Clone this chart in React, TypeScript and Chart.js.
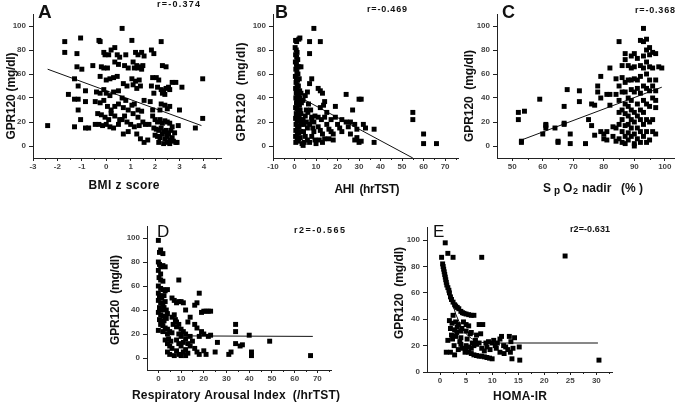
import React, { useEffect, useRef } from 'react';
import { Chart, registerables } from 'chart.js';

Chart.register(...registerables);

const W = 681;
const H = 402;
const FONT = '"Liberation Sans", Arial, sans-serif';

// ---------- Panel A: BMI z score ----------
const bmiZPoints: [number, number][] = [
  [-2.4, 17], [-1.7, 87], [-1.7, 78], [-1.05, 90], [-1.2, 77], [-1.2, 66], [-1.0, 64], [-1.3, 56], [-1.55, 43],
  [-1.15, 50], [-0.85, 46], [-1.3, 39], [-1.15, 39], [-0.85, 37], [-1.15, 30], [-1.05, 22], [-1.3, 16], [-0.85, 15],
  [-0.72, 15], [-0.55, 67], [-0.3, 88], [-0.25, 87], [-0.1, 78], [-0.05, 76], [0.1, 76], [0.2, 80], [0.35, 82],
  [0.45, 76], [0.55, 74], [0.35, 70], [0.5, 68], [-0.2, 66], [-0.1, 65], [0.05, 65], [-0.25, 58], [0.0, 55],
  [0.15, 56], [0.3, 57], [0.45, 58], [-0.4, 45], [-0.25, 44], [-0.1, 47], [0.0, 44], [0.15, 42], [0.3, 45],
  [0.5, 46], [-0.45, 37], [-0.25, 36], [-0.1, 38], [0.05, 33], [0.2, 30], [0.35, 33], [0.5, 35], [-0.35, 27],
  [-0.2, 26], [-0.05, 24], [0.1, 22], [0.2, 27], [0.35, 25], [0.55, 22], [-0.45, 18], [-0.3, 18], [-0.15, 17],
  [0.0, 18], [0.15, 16], [0.3, 15], [0.5, 18], [0.65, 98], [0.8, 76], [0.75, 67], [0.9, 65], [0.7, 52], [0.85, 50],
  [0.65, 40], [0.8, 38], [0.7, 32], [0.9, 30], [0.75, 25], [0.65, 22], [0.85, 20], [0.7, 10], [0.9, 12],
  [1.05, 88], [1.2, 78], [1.3, 76], [1.45, 78], [1.55, 75], [1.1, 70], [1.25, 67], [1.35, 66], [1.5, 67],
  [1.15, 65], [1.3, 65], [1.45, 64], [1.05, 56], [1.2, 54], [1.35, 55], [1.1, 51], [1.25, 48], [1.4, 50],
  [1.55, 38], [1.05, 34], [1.15, 35], [1.3, 30], [1.45, 29], [1.1, 27], [1.3, 24], [1.5, 20], [1.0, 18],
  [1.15, 16], [1.35, 17], [1.6, 18], [1.4, 6], [1.55, 3], [1.7, 5], [1.25, 10], [1.75, 18], [1.85, 80],
  [1.95, 77], [1.9, 57], [1.85, 50], [1.95, 44], [1.8, 37], [1.9, 30], [2.05, 57], [2.15, 55], [2.25, 87],
  [2.3, 67], [2.45, 66], [2.1, 49], [2.25, 47], [2.35, 46], [2.45, 48], [2.55, 49], [2.6, 47], [2.7, 53],
  [2.3, 44], [2.4, 43], [2.25, 35], [2.4, 34], [2.5, 31], [2.6, 33], [2.2, 30], [1.9, 25], [2.0, 22], [2.1, 20],
  [2.2, 22], [2.3, 19], [2.4, 21], [2.5, 20], [2.6, 19], [1.95, 15], [2.05, 14], [2.15, 13], [2.25, 15],
  [2.35, 12], [2.45, 13], [2.55, 11], [2.65, 13], [2.0, 9], [2.1, 8], [2.2, 7], [2.3, 10], [2.4, 6], [2.5, 8],
  [2.6, 5], [2.7, 7], [2.15, 3], [2.35, 2], [2.5, 3], [2.6, 2], [2.75, 4], [2.85, 3], [2.55, 10], [2.8, 11],
  [2.7, 16], [3.0, 30], [2.95, 17], [3.1, 49], [2.85, 53], [2.9, 3], [3.65, 15], [3.95, 56], [3.95, 23],
];
const bmiZFit: [number, number][] = [[-2.4, 64], [3.9, 17]];
const bmiZTicks = [-3, -2, -1, 0, 1, 2, 3, 4];
const bmiZMinor = [-2.5, -1.5, -0.5, 0.5, 1.5, 2.5, 3.5, 4.5];

// ---------- Panel B: AHI ----------
const ahiPoints: [number, number][] = [
  [0.5, 88], [1, 87], [2, 89], [2.5, 90], [0.3, 82], [0.8, 80], [1.2, 78], [0.5, 76], [1, 74], [1.5, 72], [0.4, 70],
  [0.9, 68], [1.3, 66], [2, 66], [3, 66], [0.6, 64], [1.1, 62], [1.6, 60], [0.4, 58], [0.9, 56], [1.4, 55],
  [2.2, 56], [0.7, 53], [1.2, 51], [1.8, 50], [0.5, 48], [1, 47], [1.6, 46], [2.4, 46], [0.8, 44], [1.4, 43],
  [2, 42], [3, 44], [0.6, 40], [1.2, 39], [1.9, 38], [2.6, 40], [0.9, 36], [1.6, 35], [2.3, 34], [3.2, 36],
  [0.5, 32], [1.1, 31], [1.8, 30], [2.6, 30], [0.8, 27], [1.5, 26], [2.2, 25], [3, 27], [0.5, 23], [1.2, 22],
  [1.9, 21], [2.7, 22], [0.7, 18], [1.4, 17], [2.1, 16], [3.1, 18], [0.6, 13], [1.3, 12], [2, 11], [2.8, 12],
  [0.5, 8], [1.2, 7], [1.9, 6], [2.7, 7], [0.6, 3], [1.5, 4], [3.5, 2], [4, 0.5], [4.5, 3], [4, 22], [4.5, 18],
  [5, 25], [5.5, 20], [6, 15], [4.2, 12], [5, 8], [6, 5], [7, 3], [5.5, 30], [6.2, 28], [4, 38], [5, 42], [6, 45],
  [7, 52], [8, 56], [6.5, 35], [7.5, 30], [8, 22], [7, 18], [8.5, 15], [9, 12], [8, 8], [9.5, 5], [10, 2],
  [7, 77], [7, 87], [9, 98], [12, 87], [8, 24], [9, 20], [9.5, 25], [11, 48], [12, 46], [13, 44], [14, 37],
  [13.5, 34], [12, 32], [11, 24], [12.5, 22], [14, 24], [15, 28], [11, 16], [12, 13], [13, 10], [14, 6],
  [11.5, 5], [13, 3], [15, 18], [16, 14], [17, 22], [17, 12], [16, 6], [18, 5], [19, 24], [19, 33], [20, 18],
  [18, 10], [21, 15], [22, 12], [22, 22], [24, 43], [24, 20], [25, 16], [26, 10], [27, 30], [28, 18], [29, 14],
  [29, 7], [30, 39], [31, 39], [30, 3], [31, 4], [32, 18], [33, 15], [37, 14], [37, 3], [28, 5], [26, 20],
  [55, 28], [55, 22], [60, 10], [60, 2], [66, 2],
];
const ahiFit: [number, number][] = [[1, 42], [55, -10]];
const ahiTicks = [-10, 0, 10, 20, 30, 40, 50, 60, 70];
const ahiMinor = [-5, 5, 15, 25, 35, 45, 55, 65, 75];

// ---------- Panel C: SpO2 nadir ----------
const spo2Points: [number, number][] = [
  [52, 28], [52, 22], [53, 4], [53, 3], [54, 29], [59, 39], [60, 10], [61, 15], [61, 17], [61, 18], [64, 15],
  [65, 4], [65, 3], [67, 33], [67, 19], [67, 18], [68, 47], [69, 10], [69, 2], [72, 46], [72, 37], [74, 2],
  [75, 22], [76, 35], [76, 17], [77, 34], [77, 9], [78, 45], [78, 50], [79, 40], [79, 58], [79, 12], [80, 10],
  [80, 6], [81, 43], [81, 12], [81, 5], [82, 65], [82, 43], [82, 34], [83, 16], [83, 8], [84, 15], [84, 43],
  [84, 56], [84, 4], [85, 87], [85, 38], [85, 50], [85, 28], [85, 18], [85, 6], [86, 67], [86, 57], [86, 45],
  [86, 30], [86, 22], [86, 12], [86, 3], [87, 77], [87, 72], [87, 53], [87, 45], [87, 35], [87, 27], [87, 17],
  [87, 8], [87, 2], [88, 67], [88, 55], [88, 40], [88, 33], [88, 25], [88, 18], [88, 11], [88, 5], [89, 75],
  [89, 65], [89, 55], [89, 47], [89, 38], [89, 30], [89, 22], [89, 15], [89, 8], [90, 77], [90, 66], [90, 56],
  [90, 45], [90, 28], [90, 20], [90, 10], [90, 2], [90, 0], [91, 73], [91, 55], [91, 48], [91, 35], [91, 25],
  [91, 15], [91, 6], [92, 88], [92, 67], [92, 58], [92, 44], [92, 30], [92, 22], [92, 12], [92, 3], [93, 98],
  [93, 87], [93, 75], [93, 65], [93, 50], [93, 38], [93, 28], [93, 18], [93, 8], [94, 89], [94, 80], [94, 70],
  [94, 60], [94, 48], [94, 35], [94, 22], [94, 12], [94, 3], [95, 82], [95, 76], [95, 66], [95, 55], [95, 46],
  [95, 33], [95, 20], [95, 5], [96, 78], [96, 65], [96, 50], [96, 40], [96, 22], [96, 12], [97, 77], [97, 55],
  [97, 46], [97, 32], [97, 10], [97, 38], [98, 66], [99, 65],
];
const spo2Fit: [number, number][] = [[53, 5], [99, 49]];
const spo2Ticks = [50, 60, 70, 80, 90, 100];
const spo2Minor = [55, 65, 75, 85, 95];

// ---------- Panel D: Respiratory Arousal Index ----------
const raiPoints: [number, number][] = [
  [0, 98], [0.5, 88], [1, 90], [2, 87], [0, 80], [0.5, 78], [1, 76], [2, 77], [3, 76], [0, 73], [1, 70],
  [0.3, 67], [1, 65], [2, 64], [0, 60], [1, 58], [2, 57], [3, 56], [4, 57], [0, 54], [0.5, 52], [1.5, 50],
  [2.5, 52], [0, 48], [1, 46], [2, 45], [3, 47], [0.5, 42], [1.5, 40], [2.5, 42], [3.5, 40], [0, 38], [1, 36],
  [2, 35], [3, 34], [4, 37], [0.5, 32], [1.5, 30], [2.5, 31], [3.5, 33], [1, 28], [2, 27], [3, 25], [0, 23],
  [2, 22], [4, 24], [4, 20], [5, 22], [6, 21], [4.5, 16], [5.5, 14], [3, 15], [4, 12], [5, 10], [6, 8], [4, 5],
  [5, 3], [7, 2], [6, 34], [7, 36], [7.5, 32], [8, 30], [6.5, 28], [9, 28], [9, 65], [6, 50], [7, 48], [8, 46],
  [9, 47], [10, 47], [11, 46], [8, 26], [10, 24], [11, 22], [9, 20], [10, 18], [12, 20], [8, 15], [9, 12],
  [10, 10], [11, 13], [12, 16], [8, 6], [9, 3], [10, 2], [11, 5], [12, 2], [12, 7], [13, 4], [13, 12], [14, 10],
  [13, 30], [14, 34], [12, 40], [14, 18], [15, 14], [16, 44], [17, 46], [18, 54], [16, 28], [17, 25], [18, 18],
  [19, 22], [16, 8], [17, 5], [18, 3], [20, 6], [21, 3], [19, 38], [20, 39], [21, 39], [22, 39], [23, 39],
  [20, 20], [22, 18], [23, 19], [25, 5], [26, 13], [31, 3], [32, 5], [34, 28], [34, 22], [34, 12], [36, 10],
  [37, 11], [40, 19], [41, 5], [41, 2], [49, 14], [67, 2],
];
const raiFit: [number, number][] = [[12, 18.4], [68, 18]];
const raiTicks = [0, 10, 20, 30, 40, 50, 60, 70];
const raiMinor = [-5, 5, 15, 25, 35, 45, 55, 65, 75];

// ---------- Panel E: HOMA-IR ----------
const homaPoints: [number, number][] = [
  [0.5, 82], [0.6, 80], [0.7, 78], [0.8, 76], [0.9, 74], [1.0, 72], [1.1, 70], [1.2, 68], [1.3, 66], [1.5, 64],
  [1.7, 62], [1.8, 60], [2.0, 57], [2.2, 55], [2.5, 53], [2.8, 51], [3.0, 50], [3.3, 49], [3.6, 48], [4.0, 46],
  [4.3, 45], [4.6, 44.5], [5.0, 44], [5.5, 43.5], [6.0, 43], [6.5, 43], [1, 98], [1.5, 90], [0.3, 87], [2.5, 87],
  [8, 87], [24, 88], [30.5, 9], [5, 17], [5.5, 15], [6, 14], [6.5, 13], [7, 12.5], [7.5, 12], [8, 12], [8.5, 11.5],
  [9, 11], [9.5, 10.5], [10, 10], [2.5, 43], [1.8, 39], [2.3, 37], [3, 38], [3.5, 36], [4.5, 38], [5, 36],
  [5.5, 35], [7.5, 36], [8.2, 36], [2, 33], [2.8, 32], [3.3, 34], [4, 31], [5, 31], [6, 30], [2.2, 28], [3, 27],
  [4, 26], [7, 28], [7.8, 29], [2.4, 25], [5.2, 25], [6.2, 22], [1.5, 24], [1.2, 15], [2, 15], [2.8, 13],
  [3.5, 17], [4.3, 18], [4, 21], [5, 20], [5.5, 19], [6, 18], [6.5, 20], [7, 21], [7.5, 22], [8, 18], [8.5, 16],
  [9, 19], [8.8, 22], [9.3, 23], [10, 22], [10.3, 24], [10.6, 20], [11, 22], [11.5, 25], [11.8, 27], [12.2, 20],
  [12.6, 19], [13, 17], [13.3, 27], [13.6, 23], [13.8, 10], [14, 18], [14.3, 26], [15.2, 19], [15.3, 9],
  [11.5, 15], [12.3, 14], [13.5, 15], [6.8, 24], [3.8, 23], [9.6, 17], [10.8, 18], [4.8, 15], [4.2, 33],
  [5.8, 29], [3.2, 30], [2.7, 20],
];
const homaFit: [number, number][] = [
  [2.2, 55], [3, 44], [4, 35], [5, 29], [6, 25.5], [7, 23.5], [8, 22.5], [10, 22], [30.3, 22],
];
const homaTicks = [0, 5, 10, 15, 20, 25, 30];
const homaMinor = [2.5, 7.5, 12.5, 17.5, 22.5, 27.5, 32.5];

// ---------- Y axis ----------
const gprTicks = [0, 20, 40, 60, 80, 100];

type Txt = {
  text?: string;
  segs?: { t: string; x: number; font: string; dy: number }[];
  x: number;
  y: number;
  font: string;
  width?: number;
  rotate?: boolean;
  left?: boolean;
};

type Panel = {
  points: [number, number][];
  fit: [number, number][];
  xMin: number; xMax: number; yMin: number; yMax: number;
  xTicks: number[]; xMinor: number[]; yTicks: number[];
  L: number; T: number; R: number; B: number;
  texts: Txt[];
};

const titleFont = `bold 12px ${FONT}`;
const rFont = `bold 9px ${FONT}`;

const panels: Panel[] = [
  {
    points: bmiZPoints, fit: bmiZFit, xMin: -3, xMax: 4.7, yMin: -10, yMax: 110,
    xTicks: bmiZTicks, xMinor: bmiZMinor, yTicks: gprTicks, L: 33, T: 14, R: 221, B: 158,
    texts: [
      { text: 'A', x: 38, y: 18, font: `bold 19px ${FONT}`, left: true },
      { text: 'r=-0.374', x: 178.5, y: 7, font: rFont, width: 43 },
      { text: 'GPR120 (mg/dl)', x: 12, y: 96, font: titleFont, width: 87, rotate: true },
      { text: 'BMI z score', x: 124, y: 189, font: titleFont, width: 71 },
    ],
  },
  {
    points: ahiPoints, fit: ahiFit, xMin: -10, xMax: 76, yMin: -10, yMax: 110,
    xTicks: ahiTicks, xMinor: ahiMinor, yTicks: gprTicks, L: 273, T: 14, R: 458, B: 158,
    texts: [
      { text: 'B', x: 275, y: 18, font: `bold 18px ${FONT}`, left: true },
      { text: 'r=-0.469', x: 387, y: 12, font: rFont, width: 40 },
      { text: 'GPR120  (mg/dl)', x: 242, y: 92, font: titleFont, width: 99, rotate: true },
      { text: 'AHI  (hrTST)', x: 367, y: 193, font: titleFont, width: 65 },
    ],
  },
  {
    points: spo2Points, fit: spo2Fit, xMin: 45, xMax: 103, yMin: -10, yMax: 110,
    xTicks: spo2Ticks, xMinor: spo2Minor, yTicks: gprTicks, L: 497, T: 14, R: 674, B: 158,
    texts: [
      { text: 'C', x: 502, y: 18, font: `bold 18px ${FONT}`, left: true },
      { text: 'r=-0.368', x: 655, y: 13, font: rFont, width: 40 },
      { text: 'GPR120  (mg/dl)', x: 470, y: 96, font: titleFont, width: 92, rotate: true },
      {
        x: 0, y: 192, font: titleFont,
        segs: [
          { t: 'S', x: 543, font: `bold 12px ${FONT}`, dy: 0 },
          { t: 'p', x: 554, font: `bold 10px ${FONT}`, dy: 2 },
          { t: 'O', x: 563, font: `bold 12px ${FONT}`, dy: 0 },
          { t: '2', x: 573, font: `bold 9px ${FONT}`, dy: 2 },
          { t: 'nadir', x: 582, font: `bold 12px ${FONT}`, dy: 0 },
          { t: '(% )', x: 621, font: `bold 12px ${FONT}`, dy: 0 },
        ],
      },
    ],
  },
  {
    points: raiPoints, fit: raiFit, xMin: -5, xMax: 76, yMin: -10, yMax: 110,
    xTicks: raiTicks, xMinor: raiMinor, yTicks: gprTicks, L: 147, T: 226, R: 331, B: 370,
    texts: [
      { text: 'D', x: 157, y: 237, font: `17px ${FONT}`, left: true },
      { text: 'r2=-0.565', x: 319.5, y: 233, font: rFont, width: 51 },
      { text: 'GPR120  (mg/dl)', x: 116, y: 300, font: titleFont, width: 90, rotate: true },
      { text: 'Respiratory Arousal Index  (/hrTST)', x: 236, y: 399, font: titleFont, width: 208 },
    ],
  },
  {
    points: homaPoints, fit: homaFit, xMin: -2.5, xMax: 33, yMin: 0, yMax: 110,
    xTicks: homaTicks, xMinor: homaMinor, yTicks: gprTicks, L: 427, T: 227, R: 612, B: 372,
    texts: [
      { text: 'E', x: 433, y: 237, font: `17px ${FONT}`, left: true },
      { text: 'r2=-0.631', x: 590, y: 232, font: rFont, width: 40 },
      { text: 'GPR120  (mg/dl)', x: 400, y: 293, font: titleFont, width: 92, rotate: true },
      { text: 'HOMA-IR', x: 520, y: 400, font: titleFont, width: 54 },
    ],
  },
];

function drawFitted(ctx: CanvasRenderingContext2D, t: Txt) {
  ctx.save();
  ctx.fillStyle = '#111';
  ctx.textBaseline = t.rotate ? 'middle' : 'alphabetic';
  if (t.segs) {
    for (const s of t.segs) {
      ctx.font = s.font;
      ctx.textAlign = 'left';
      ctx.fillText(s.t, s.x, t.y + s.dy);
    }
    ctx.restore();
    return;
  }
  const text = t.text || '';
  ctx.font = t.font;
  (ctx as any).letterSpacing = '0px';
  const w0 = ctx.measureText(text).width;
  let ls = 0;
  if (t.width && text.length > 1) {
    ls = (t.width - w0) / (text.length - 1);
    ls = Math.max(-1.5, Math.min(3, ls));
  }
  (ctx as any).letterSpacing = `${ls}px`;
  const total = w0 + ls * (text.length - 1);
  ctx.textAlign = 'left';
  if (t.rotate) {
    ctx.translate(t.x, t.y);
    ctx.rotate(-Math.PI / 2);
    ctx.fillText(text, -total / 2, 0);
  } else if (t.left) {
    ctx.fillText(text, t.x, t.y);
  } else {
    ctx.fillText(text, t.x - total / 2, t.y);
  }
  ctx.restore();
}

function decorPlugin(p: Panel) {
  return {
    id: 'decor',
    afterDraw(chart: any) {
      const ctx: CanvasRenderingContext2D = chart.ctx;
      const xs = chart.scales.x;
      const bottom = chart.chartArea.bottom;
      ctx.save();
      ctx.strokeStyle = '#222';
      ctx.lineWidth = 1;
      for (const v of p.xMinor) {
        if (v <= p.xMin || v >= p.xMax) continue;
        const px = Math.round(xs.getPixelForValue(v)) + 0.5;
        ctx.beginPath();
        ctx.moveTo(px, bottom);
        ctx.lineTo(px, bottom + 2);
        ctx.stroke();
      }
      ctx.restore();
      for (const t of p.texts) drawFitted(ctx, t);
    },
  };
}

function makeConfig(p: Panel): any {
  const tickFont = { family: '"Liberation Sans Narrow", "Liberation Sans", Arial, sans-serif', size: 8, weight: 'bold' as const };
  return {
    type: 'scatter',
    data: {
      datasets: [
        {
          data: p.points.map(([x, y]) => ({ x, y })),
          pointStyle: 'rect',
          pointRadius: 3.5,
          backgroundColor: '#000',
          borderColor: '#000',
          borderWidth: 0,
          showLine: false,
          order: 0,
        },
        {
          data: p.fit.map(([x, y]) => ({ x, y })),
          showLine: true,
          pointRadius: 0,
          borderColor: '#111',
          borderWidth: 1,
          tension: 0,
          order: 1,
        },
      ],
    },
    options: {
      animation: false,
      responsive: false,
      events: [],
      layout: { padding: { left: p.L - 28, top: p.T, right: W - p.R, bottom: H - p.B - 14 } },
      plugins: { legend: { display: false }, tooltip: { enabled: false }, title: { display: false } },
      scales: {
        x: {
          type: 'linear',
          min: p.xMin,
          max: p.xMax,
          afterBuildTicks: (s: any) => { s.ticks = p.xTicks.map((v) => ({ value: v })); },
          afterFit: (s: any) => { s.height = 14; },
          grid: { drawOnChartArea: false, drawTicks: true, tickLength: 3, tickColor: '#222', tickWidth: 1 },
          border: { display: true, color: '#222', width: 1 },
          ticks: { font: tickFont, color: '#444', padding: 1, maxRotation: 0, autoSkip: false, callback: (v: any) => String(v) },
        },
        y: {
          type: 'linear',
          min: p.yMin,
          max: p.yMax,
          afterBuildTicks: (s: any) => { s.ticks = p.yTicks.map((v) => ({ value: v })); },
          afterFit: (s: any) => { s.width = 28; },
          grid: { drawOnChartArea: false, drawTicks: true, tickLength: 4, tickColor: '#222', tickWidth: 1 },
          border: { display: true, color: '#222', width: 1 },
          ticks: { font: tickFont, color: '#444', padding: 3, autoSkip: false, callback: (v: any) => String(v) },
        },
      },
    },
    plugins: [decorPlugin(p)],
  };
}

function PanelCanvas({ p }: { p: Panel }) {
  const ref = useRef<HTMLCanvasElement>(null);
  useEffect(() => {
    if (!ref.current) return;
    const chart = new Chart(ref.current, makeConfig(p));
    return () => chart.destroy();
  }, [p]);
  return (
    <canvas
      ref={ref}
      width={W}
      height={H}
      style={{ position: 'absolute', left: 0, top: 0, width: W, height: H }}
    />
  );
}

export default function App() {
  return (
    <div style={{ position: 'absolute', left: 0, top: 0, width: W, height: H, background: '#fff', overflow: 'hidden' }}>
      {panels.map((p, i) => (
        <PanelCanvas key={i} p={p} />
      ))}
    </div>
  );
}
